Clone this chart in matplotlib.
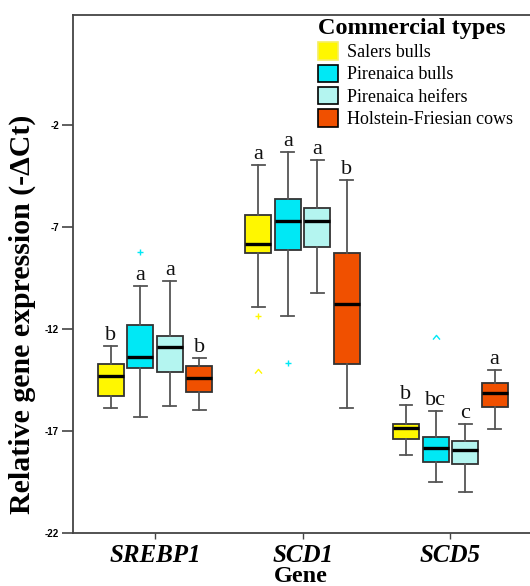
import matplotlib

matplotlib.use("Agg")
import matplotlib.pyplot as plt
from matplotlib.patches import Patch
from matplotlib.path import Path

GENES = ["SREBP1", "SCD1", "SCD5"]
GROUPS = ["Salers bulls", "Pirenaica bulls", "Pirenaica heifers", "Holstein-Friesian cows"]
COLORS = ["#fff700", "#00e8f5", "#b4f5f0", "#f05000"]

# one row per gene, one value per group
WHISLO = [[-15.85, -16.31, -15.78, -15.98],
          [-10.91, -11.35, -10.23, -15.85],
          [-18.19, -19.50, -20.00, -16.91]]
Q1 = [[-15.28, -13.92, -14.12, -15.07],
      [-8.25, -8.10, -7.98, -13.69],
      [-17.39, -18.50, -18.60, -15.82]]
MEDIAN = [[-14.30, -13.38, -12.87, -14.40],
          [-7.85, -6.71, -6.71, -10.75],
          [-16.85, -17.81, -17.94, -15.13]]
Q3 = [[-13.69, -11.78, -12.33, -13.82],
      [-6.42, -5.63, -6.07, -8.25],
      [-16.64, -17.29, -17.50, -14.66]]
WHISHI = [[-12.84, -9.88, -9.65, -13.41],
          [-3.96, -3.34, -3.73, -4.70],
          [-15.74, -16.03, -16.65, -14.03]]
LETTERS = [["b", "a", "a", "b"],
           ["a", "a", "a", "b"],
           ["b", "bc", "c", "a"]]
# (gene, group, value, kind)
OUTLIERS = [(0, 1, -8.21, "+"),
            (1, 0, -11.37, "+"),
            (1, 0, -14.05, "^"),
            (1, 1, -13.64, "+"),
            (2, 1, -12.38, "^")]
YTICKS = [-22, -17, -12, -7, -2]

SERIF = "Liberation Serif"
OFFSETS = [-0.3, -0.1, 0.1, 0.3]
BOX_W = 0.176
CARET = Path([(-1, -0.6), (0, 0.6), (1, -0.6)], [Path.MOVETO, Path.LINETO, Path.LINETO])


def main() -> None:
    fig = plt.figure(figsize=(5.3, 5.86), dpi=100)
    ax = fig.add_axes([0.1377, 0.0904, 0.8623, 0.884])

    for g, gene in enumerate(GENES):
        for k in range(len(GROUPS)):
            pos = g + 1 + OFFSETS[k]
            stats = [{
                "whislo": WHISLO[g][k], "q1": Q1[g][k], "med": MEDIAN[g][k],
                "q3": Q3[g][k], "whishi": WHISHI[g][k], "fliers": [],
            }]
            ax.bxp(
                stats, positions=[pos], widths=BOX_W, capwidths=BOX_W * 0.5,
                patch_artist=True, showfliers=False,
                boxprops={"facecolor": COLORS[k], "edgecolor": "#333333", "linewidth": 1.3},
                medianprops={"color": "black", "linewidth": 2.4},
                whiskerprops={"color": "#555555", "linewidth": 1.3},
                capprops={"color": "#555555", "linewidth": 1.3},
                manage_ticks=False,
            )
            ax.text(pos, WHISHI[g][k] + 0.3, LETTERS[g][k], ha="center", va="baseline",
                    fontsize=16, family=SERIF, color="#111111")

    for g, k, value, kind in OUTLIERS:
        marker = "+" if kind == "+" else CARET
        ax.plot(g + 1 + OFFSETS[k], value, marker=marker, color=COLORS[k],
                markersize=5, markeredgewidth=1.0, fillstyle="none", linestyle="none")

    ax.set_xlim(0.444, 3.54)
    ax.set_ylim(-22, 3.4)
    ax.set_yticks(YTICKS)
    ax.set_yticklabels([str(v) for v in YTICKS], fontsize=7, fontweight="bold", family="Liberation Sans")
    ax.set_xticks([1, 2, 3])
    ax.set_xticklabels(GENES, fontsize=18, fontweight="bold", fontstyle="italic", family=SERIF)
    ax.tick_params(axis="y", length=8, width=1.2, color="#444444", pad=2)
    ax.tick_params(axis="x", length=4, width=1.0, color="#444444", pad=4)
    for side in ["left", "bottom", "top"]:
        ax.spines[side].set_color("#444444")
        ax.spines[side].set_linewidth(1.3)
    ax.spines["right"].set_visible(False)

    fig.text(22 / 530, 0.463, "Relative gene expression (-ΔCt)", rotation=90, ha="center", va="center",
             fontsize=21.5, fontweight="bold", family=SERIF)
    fig.text(301 / 530, 1 - 576 / 586, "Gene", ha="center", va="center",
             fontsize=17.5, fontweight="bold", family=SERIF)

    handles = [Patch(facecolor=c, edgecolor=("#f5ee60" if i == 0 else "black"), linewidth=1.2, label=lab)
               for i, (c, lab) in enumerate(zip(COLORS, GROUPS))]
    leg = ax.legend(handles=handles, title="Commercial types", loc="upper left",
                    bbox_to_anchor=(0.536, 0.995), frameon=False, alignment="left",
                    prop={"family": SERIF, "size": 13}, handlelength=1.1, handleheight=1.1,
                    handletextpad=0.5, labelspacing=0.2, borderpad=0, borderaxespad=0)
    leg.get_title().set_fontproperties({"family": SERIF, "size": 17.5, "weight": "bold"})

    fig.savefig("out.png", dpi=100)
    plt.close(fig)


if __name__ == "__main__":
    main()
